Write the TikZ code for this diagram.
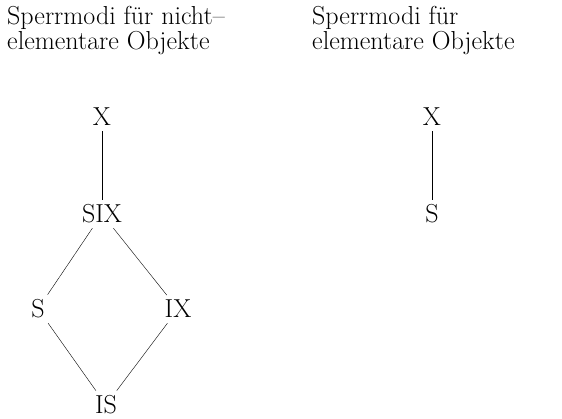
\documentclass[tikz,border=0pt]{standalone}
\usepackage{tikz}

\begin{document}
\begin{tikzpicture}[x=1pt,y=-1pt,every node/.style={font=\fontsize{26}{23}\selectfont,inner sep=4pt,text depth=2pt}]
\useasboundingbox (0,0) rectangle (562,418);
\node[anchor=base west,align=left,inner sep=0pt] (t1) at (7,49) {Sperrmodi f\"ur nicht--\\elementare Objekte};
\node[anchor=base west,align=left,inner sep=0pt] (t2) at (312,49) {Sperrmodi f\"ur\\elementare Objekte};
% nicht-elementare Objekte
\node[anchor=base] (X1) at (102,125) {X}; \node[anchor=base] (SIX) at (102,222) {SIX};
\node[anchor=base] (S1) at (38,317) {S}; \node[anchor=base] (IX) at (178,317) {IX};
\node[anchor=base] (IS) at (106,413) {IS};
% elementare Objekte
\node[anchor=base] (X2) at (432,125) {X}; \node[anchor=base] (S2) at (432,222) {S};
\foreach \a/\b in {X1/SIX,SIX/S1,SIX/IX,S1/IS,IX/IS,X2/S2}{\draw (\a)--(\b);}
\end{tikzpicture}
\end{document}
